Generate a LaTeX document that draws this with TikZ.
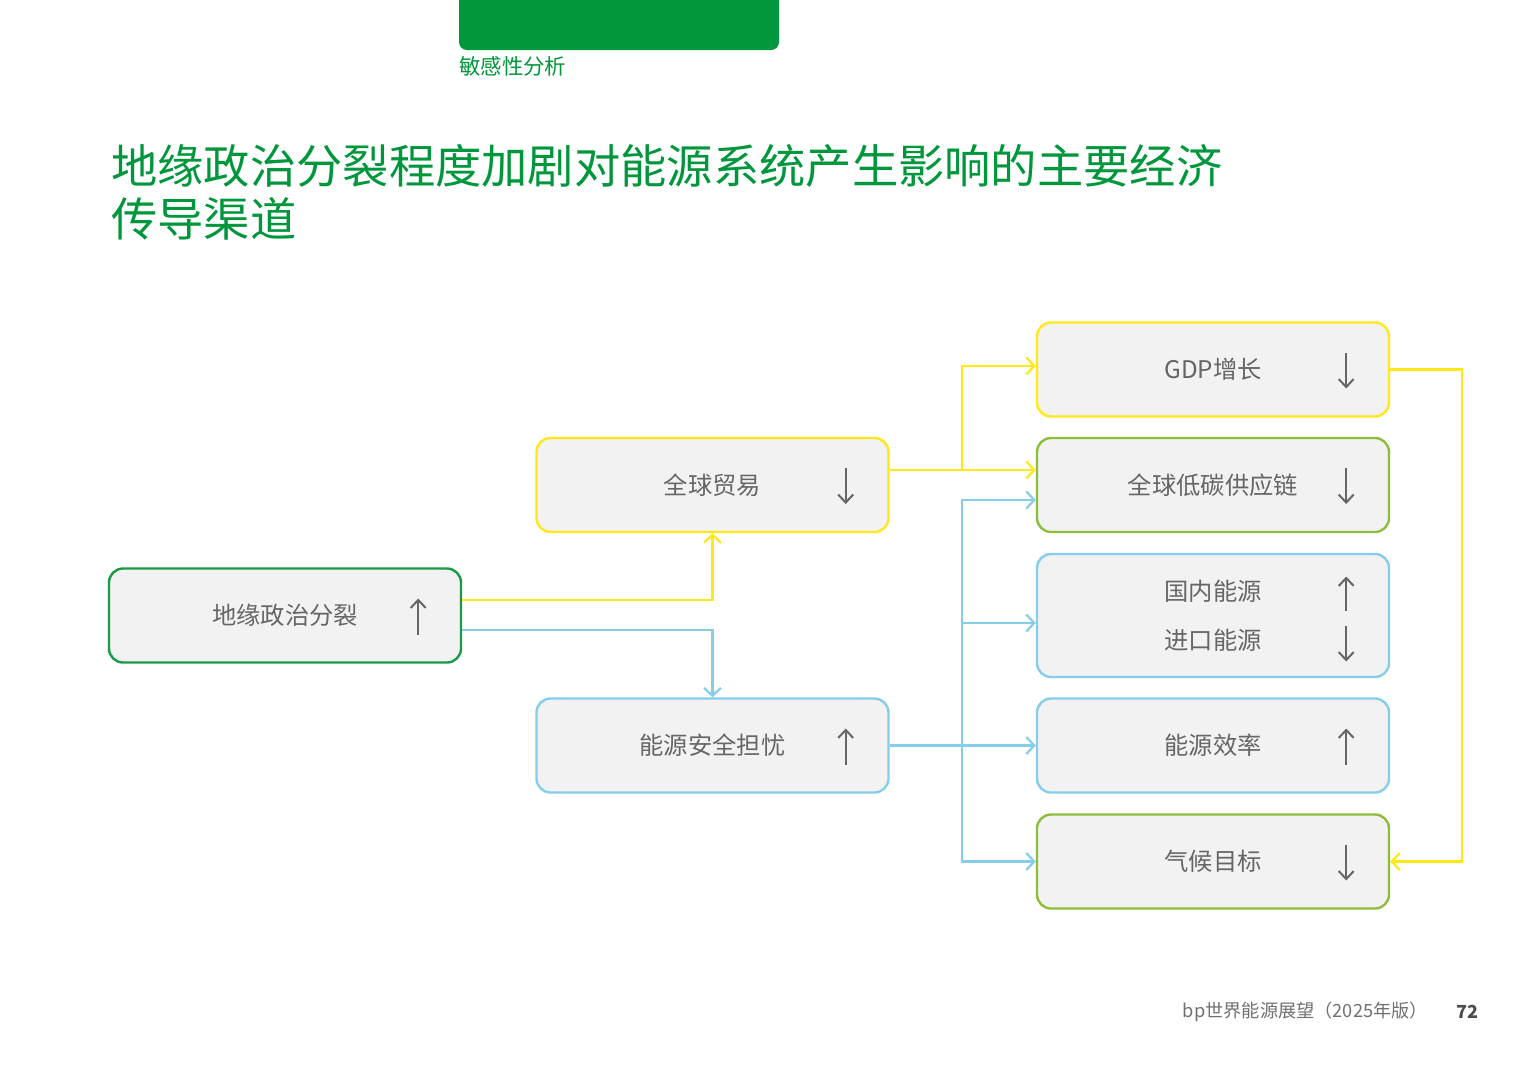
\documentclass[tikz,border=0pt]{standalone}
\usepackage{fontspec}
\setmainfont{Noto Sans CJK SC}
\usetikzlibrary{arrows.meta,calc}
\definecolor{tabgreen}{HTML}{00973D}
\definecolor{titlegreen}{HTML}{00963B}
\definecolor{darkgreenb}{HTML}{1B9A46}
\definecolor{yelb}{HTML}{FFE818}
\definecolor{blub}{HTML}{85CDEB}
\definecolor{ygreenb}{HTML}{8CBE3C}
\definecolor{boxfill}{HTML}{F2F2F2}
\definecolor{txtgray}{HTML}{666666}
\definecolor{footgray}{HTML}{707070}
\tikzset{
  box/.style={draw, line width=2.4pt, fill=boxfill, rounded corners=14pt,
    minimum width=352pt, minimum height=94pt, inner sep=0pt,
    text=txtgray, font=\fontsize{24.3pt}{29pt}\selectfont, align=center},
  yelline/.style={draw=yelb, line width=2.4pt, -{Straight Barb[length=8pt,width=17pt,line width=2.2pt]}},
  bluline/.style={draw=blub, line width=2.4pt, -{Straight Barb[length=8pt,width=17pt,line width=2.2pt]}},
  inarr/.style={draw=txtgray, line width=2.2pt, -{Straight Barb[length=8pt,width=15pt,line width=2pt]}},
}
\begin{document}
\begin{tikzpicture}[x=1pt,y=-1pt]
\useasboundingbox (0,0) rectangle (1533,1080);
% header tab
\fill[tabgreen, rounded corners=8pt] (459,-20) rectangle (779,50);
\node[anchor=west, inner sep=0pt, text=titlegreen, font=\fontsize{21.4pt}{25pt}\selectfont] (sec0) at (459,66) {敏感性分析};
% title
\node[anchor=west, inner sep=0pt, text=titlegreen, font=\fontsize{46.3pt}{54pt}\selectfont] (t1) at (111,166) {地缘政治分裂程度加剧对能源系统产生影响的主要经济};
\node[anchor=west, inner sep=0pt, text=titlegreen, font=\fontsize{46.3pt}{54pt}\selectfont] (t2) at (111,219) {传导渠道};
% boxes
\node[box, draw=darkgreenb] (geo) at (285,615.5) {地缘政治分裂};
\node[box, draw=yelb] (trade) at (712.5,485) {全球贸易};
\node[box, draw=blub] (secur) at (712.5,745.5) {能源安全担忧};
\node[box, draw=yelb] (gdp) at (1213,369.5) {GDP增长};
\node[box, draw=ygreenb] (lowc) at (1213,485) {全球低碳供应链};
\node[box, draw=blub, minimum height=123pt] (dom) at (1213,615.5) {国内能源\\[20pt]进口能源};
\node[box, draw=blub] (eff) at (1213,745.5) {能源效率};
\node[box, draw=ygreenb] (clim) at (1213,861.5) {气候目标};
% inner arrows
\draw[inarr] ($(geo.east)+(-44,19)$) -- ($(geo.east)+(-44,-17)$);
\draw[inarr] ($(trade.east)+(-44,-17)$) -- ($(trade.east)+(-44,19)$);
\draw[inarr] ($(secur.east)+(-44,19)$) -- ($(secur.east)+(-44,-17)$);
\draw[inarr] ($(gdp.east)+(-44,-17)$) -- ($(gdp.east)+(-44,19)$);
\draw[inarr] ($(lowc.east)+(-44,-17)$) -- ($(lowc.east)+(-44,19)$);
\draw[inarr] ($(dom.east)+(-44,-5)$) -- ($(dom.east)+(-44,-39)$);
\draw[inarr] ($(dom.east)+(-44,10)$) -- ($(dom.east)+(-44,46)$);
\draw[inarr] ($(eff.east)+(-44,19)$) -- ($(eff.east)+(-44,-17)$);
\draw[inarr] ($(clim.east)+(-44,-17)$) -- ($(clim.east)+(-44,19)$);
% connectors
\coordinate (yj) at (962,470);
\coordinate (bj) at (962,745.5);
\coordinate (yr) at (1462,615);
\draw[yelline] (geo.east |- 0,600) -| (trade.south);
\draw[bluline] (geo.east |- 0,630) -| (secur.north);
\draw[yelline] (trade.east |- yj) -- (lowc.west |- yj);
\draw[yelline] (yj) |- (gdp.west |- 0,366);
\draw[bluline] (secur.east) -- (eff.west);
\draw[bluline] (bj) |- (lowc.west |- 0,500);
\draw[bluline] (bj) |- (dom.west |- 0,623);
\draw[bluline] (bj) |- (clim.west);
\draw[yelline] (gdp.east) -| (yr) |- (clim.east);
% footer
\node[anchor=east, inner sep=0pt, text=footgray, font=\fontsize{18.2pt}{22pt}\selectfont] (foot) at (1428,1012) {bp世界能源展望（2025年版）};
\node[anchor=east, inner sep=0pt, text=black!70, font=\fontsize{18pt}{22pt}\selectfont\bfseries] (pg) at (1479,1012) {72};
\end{tikzpicture}
\end{document}
